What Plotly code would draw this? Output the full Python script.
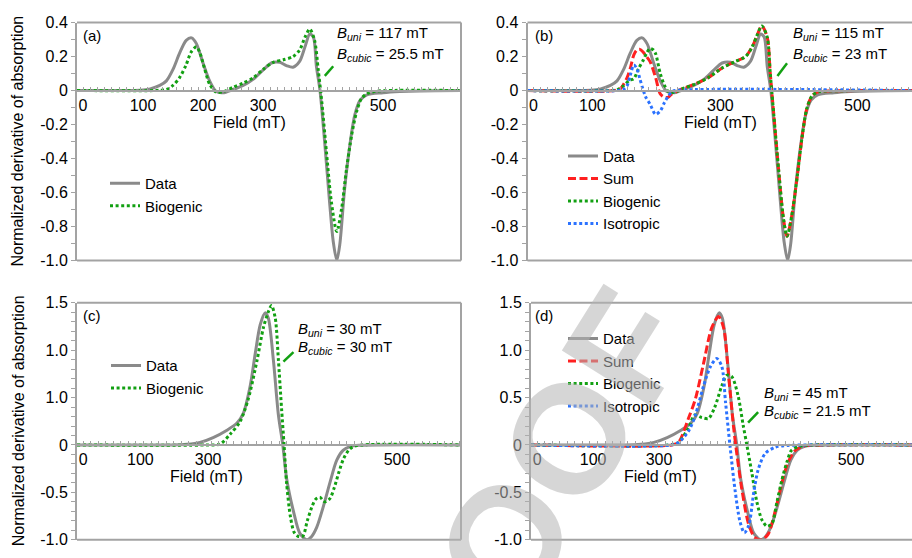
import plotly.graph_objects as go

W, H = 912, 558
FONT = "Liberation Sans, Arial, Helvetica, sans-serif"

# ---------------- sample 1: panels (a) and (b) ----------------
field_ab_data = [-10, 60, 95, 112, 128, 139, 150, 161, 172, 181, 189, 200, 211, 222, 233,
                 250, 267, 284, 300, 314, 328, 339, 350, 361, 370, 378, 384, 389, 395,
                 403, 411, 417, 423, 428, 436, 445, 453, 462, 473, 500, 528, 560, 630]
data_ab = [0, 0, 0.002, 0.01, 0.03, 0.057, 0.124, 0.22, 0.295, 0.31, 0.276, 0.162, 0.057,
           -0.006, -0.013, 0.006, 0.03, 0.067, 0.12, 0.162, 0.166, 0.147, 0.137, 0.171,
           0.257, 0.333, 0.314, 0.143, 0, -0.314, -0.657, -0.886, -1.0, -0.905, -0.58,
           -0.314, -0.143, -0.057, -0.025, -0.013, -0.006, -0.002, 0]

field_a_bio = [-10, 120, 128, 139, 150, 161, 172, 180, 189, 195, 203, 211, 222, 234, 250,
               267, 284, 300, 317, 334, 350, 361, 370, 378, 386, 392, 398, 406, 414, 423,
               431, 439, 448, 456, 464, 473, 489, 630]
bio_a = [0, 0, 0.002, 0.006, 0.03, 0.076, 0.152, 0.225, 0.257, 0.22, 0.124, 0.038, -0.01,
         -0.006, 0.019, 0.044, 0.076, 0.124, 0.166, 0.181, 0.2, 0.238, 0.314, 0.362, 0.295,
         0.124, -0.067, -0.371, -0.657, -0.829, -0.695, -0.467, -0.257, -0.124, -0.048,
         -0.019, -0.004, 0]

field_b_bio = [-10, 130, 140, 150, 160, 167, 175, 183, 189, 194, 199, 203, 211, 218, 224,
               230, 237, 247, 269, 291, 314, 336, 353, 364, 372, 380, 389, 394, 400, 408,
               416, 422, 430, 439, 447, 455, 464, 475, 490, 630]
bio_b = [0, 0, 0.005, 0.029, 0.06, 0.07, 0.13, 0.181, 0.225, 0.248, 0.24, 0.219, 0.1, 0.03,
         -0.005, -0.012, -0.008, 0.01, 0.038, 0.076, 0.133, 0.171, 0.2, 0.257, 0.324, 0.38,
         0.314, 0.105, -0.143, -0.467, -0.752, -0.857, -0.733, -0.505, -0.276, -0.105,
         -0.029, -0.006, -0.002, 0]

field_b_iso = [-10, 140, 150, 156, 161, 167, 172, 177, 182, 187, 194, 203, 211, 218, 224,
               230, 236, 630]
iso_b = [0, 0, 0.008, 0.03, 0.09, 0.15, 0.13, 0.07, 0.01, -0.04, -0.08, -0.14, -0.12,
         -0.07, -0.035, -0.008, 0, 0]

field_b_sum = [-10, 135, 145, 150, 156, 161, 167, 172, 177, 182, 187, 194, 203, 211, 218,
               224, 230, 237, 247, 269, 291, 314, 336, 353, 364, 372, 380, 389, 394, 400,
               408, 416, 422, 430, 439, 447, 455, 464, 475, 490, 630]
sum_b = [0, 0, 0.012, 0.037, 0.078, 0.13, 0.21, 0.238, 0.242, 0.228, 0.205, 0.17, 0.079,
         -0.02, -0.04, -0.04, -0.02, -0.008, 0.01, 0.038, 0.076, 0.133, 0.171, 0.2, 0.257,
         0.324, 0.38, 0.314, 0.105, -0.143, -0.467, -0.752, -0.857, -0.733, -0.505, -0.276,
         -0.105, -0.029, -0.006, -0.002, 0]

# ---------------- sample 2: panels (c) and (d) ----------------
field_cd_data = [-10, 140, 165, 186, 207, 229, 245, 255, 266, 274, 282, 290, 295, 303, 311,
                 318, 324, 335, 345, 356, 364, 372, 383, 393, 404, 414, 425, 440, 602]
data_cd = [0, 0, 0.007, 0.027, 0.078, 0.156, 0.231, 0.333, 0.622, 0.962, 1.268, 1.395,
           1.337, 0.895, 0.316, 0, -0.35, -0.7, -0.93, -1.0, -0.965, -0.87, -0.64, -0.4,
           -0.16, -0.058, -0.017, -0.004, 0]

field_c_bio = [-10, 197, 218, 234, 250, 263, 277, 287, 295, 300, 306, 311, 316, 320, 324,
               330, 336, 343, 350, 357, 364, 370, 377, 385, 393, 400, 407, 415, 425, 436, 602]
bio_c = [0, 0, 0.01, 0.112, 0.248, 0.486, 0.895, 1.235, 1.405, 1.47, 1.337, 0.895, 0.385,
         0, -0.4, -0.75, -0.92, -0.965, -0.96, -0.8, -0.66, -0.575, -0.551, -0.6, -0.566,
         -0.45, -0.296, -0.143, -0.041, -0.007, 0]

field_d_bio = [-10, 209, 225, 241, 251, 262, 273, 283, 294, 302, 310, 320, 328, 334, 342,
               350, 358, 366, 374, 382, 390, 398, 405, 416, 430, 597]
bio_d = [0, 0, 0.027, 0.18, 0.316, 0.289, 0.28, 0.401, 0.622, 0.735, 0.72, 0.52, 0.214, 0,
         -0.296, -0.602, -0.79, -0.857, -0.83, -0.602, -0.364, -0.177, -0.058, -0.017,
         -0.003, 0]

field_d_iso = [-10, 214, 225, 241, 252, 265, 276, 286, 294, 300, 307, 315, 323, 330, 337,
               345, 352, 363, 379, 400, 597]
iso_d = [0, 0, 0.027, 0.146, 0.316, 0.622, 0.827, 0.912, 0.83, 0.452, 0, -0.466, -0.806,
         -0.925, -0.85, -0.5, -0.262, -0.092, -0.024, -0.005, 0]

field_d_sum = [-10, 214, 225, 241, 252, 265, 278, 289, 297, 305, 313, 318, 326, 337, 347,
               358, 368, 379, 390, 400, 411, 422, 440, 597]
sum_d = [0, 0, 0.027, 0.282, 0.486, 0.86, 1.235, 1.354, 1.235, 0.724, 0.18, -0.092, -0.466,
         -0.84, -0.976, -1.0, -0.94, -0.704, -0.398, -0.177, -0.058, -0.017, -0.003, 0]

# ---------------- axis labels ----------------
xtick_a_vals, xtick_a_text = [0, 100, 200, 300, 500], ["0", "100", "200", "300", "500"]
xtick_b_vals, xtick_b_text = [0, 98, 311, 539], ["0", "100", "300", "500"]
xtick_c_vals, xtick_c_text = [0, 91, 199, 500], ["0", "100", "300", "500"]
xtick_d_vals, xtick_d_text = [0, 89, 194, 500], ["0", "100", "300", "500"]
ytick_ab_vals = [-1.0, -0.8, -0.6, -0.4, -0.2, 0, 0.2, 0.4]
ytick_ab_text = ["-1.0", "-0.8", "-0.6", "-0.4", "-0.2", "0", "0.2", "0.4"]
ytick_cd_vals = [-1.0, -0.5, 0, 0.5, 1.0, 1.5]
ytick_c_text = ["-1.0", "-0.5", "0", "1.0", "1.0", "1.5"]
ytick_d_text = ["-1.0", "-0.5", "0", "0.5", "1.0", "1.5"]

panel_tags = ["(a)", "(b)", "(c)", "(d)"]
b_uni = ["117", "115", "30", "45"]
b_cubic = ["25.5", "23", "30", "21.5"]

# ---------------- styles ----------------
GRAY = "#8a8a8a"
AXIS = "#a3a3a3"
RED = "#ff2020"
GREEN = "#12a012"
BLUE = "#2b72ff"

# panel frames in pixels: left, right, top, bottom
frames = {
    "a": (77, 461, 15, 260.5),
    "b": (527.5, 912, 15, 260.5),
    "c": (77, 461, 304, 548.5),
    "d": (531, 912, 304, 548.5),
}
xranges = {"a": [-10, 630], "b": [-10, 630], "c": [-10, 602], "d": [-10, 597.2]}
yranges = {"a": [-1.0, 0.4], "b": [-1.0, 0.4], "c": [-1.0, 1.5], "d": [-1.0, 1.5]}
ax_id = {"a": "", "b": "2", "c": "3", "d": "4"}


def px2x(px):
    return px / W


def px2y(py):
    return 1 - py / H


fig = go.Figure()


def add_line(panel, x, y, name, color, dash, legend, width=3):
    k = ax_id[panel]
    fig.add_trace(go.Scatter(
        x=x, y=y, name=name, mode="lines",
        line=dict(color=color, width=width, dash=dash, shape="spline", smoothing=0.8),
        xaxis="x" + k, yaxis="y" + k, legend=legend,
    ))


DOT = "3px,2.6px"
DASH = "8px,3.5px"

add_line("a", field_ab_data, data_ab, "Data", GRAY, "solid", "legend")
add_line("a", field_a_bio, bio_a, "Biogenic", GREEN, DOT, "legend")

add_line("b", field_ab_data, data_ab, "Data", GRAY, "solid", "legend2")
add_line("b", field_b_sum, sum_b, "Sum", RED, DASH, "legend2")
add_line("b", field_b_bio, bio_b, "Biogenic", GREEN, DOT, "legend2")
add_line("b", field_b_iso, iso_b, "Isotropic", BLUE, DOT, "legend2")

add_line("c", field_cd_data, data_cd, "Data", GRAY, "solid", "legend3")
add_line("c", field_c_bio, bio_c, "Biogenic", GREEN, DOT, "legend3")

add_line("d", field_cd_data, data_cd, "Data", GRAY, "solid", "legend4")
add_line("d", field_d_sum, sum_d, "Sum", RED, DASH, "legend4")
add_line("d", field_d_bio, bio_d, "Biogenic", GREEN, DOT, "legend4")
add_line("d", field_d_iso, iso_d, "Isotropic", BLUE, DOT, "legend4")

xticks = {"a": (xtick_a_vals, xtick_a_text), "b": (xtick_b_vals, xtick_b_text),
          "c": (xtick_c_vals, xtick_c_text), "d": (xtick_d_vals, xtick_d_text)}
yticks = {"a": (ytick_ab_vals, ytick_ab_text), "b": (ytick_ab_vals, ytick_ab_text),
          "c": (ytick_cd_vals, ytick_c_text), "d": (ytick_cd_vals, ytick_d_text)}

layout = dict(
    width=W, height=H, margin=dict(l=0, r=0, t=0, b=0),
    paper_bgcolor="white", plot_bgcolor="rgba(0,0,0,0)",
    font=dict(family=FONT, size=15, color="black"),
    showlegend=True,
)
shapes = []
annotations = []

for p in "abcd":
    l, r, t, b = frames[p]
    k = ax_id[p]
    y0, y1 = yranges[p]
    zero_py = b - (0 - y0) / (y1 - y0) * (b - t)
    tv, tt = xticks[p]
    layout["xaxis" + k] = dict(
        domain=[px2x(l), px2x(r)], range=xranges[p], anchor="free", position=px2y(zero_py),
        showline=True, linecolor=AXIS, linewidth=2, zeroline=False, showgrid=False,
        tickvals=tv, ticktext=tt, ticks="", tickfont=dict(size=16),
        minor=dict(ticks="inside", ticklen=3, tickcolor=AXIS, tickwidth=1, dtick=12,
                   tick0=0, showgrid=False),
        fixedrange=True,
    )
    yv, yt = yticks[p]
    layout["yaxis" + k] = dict(
        domain=[px2y(b), px2y(t)], range=yranges[p], anchor="x" + k,
        showline=True, linecolor=AXIS, linewidth=2, zeroline=False, showgrid=False,
        tickvals=yv, ticktext=yt, ticks="outside", ticklen=4, tickcolor=AXIS, tickwidth=1,
        tickfont=dict(size=16),
        minor=dict(ticks="outside", ticklen=4, tickcolor=AXIS, tickwidth=1,
                   dtick=0.1, tick0=0, showgrid=False),
        fixedrange=True,
    )
    # frame: top and bottom edges, right edge where it falls inside the page
    xd, yd = "x" + k + " domain", "y" + k + " domain"
    for yy in (0, 1):
        shapes.append(dict(type="line", xref=xd, yref=yd, x0=0, x1=1, y0=yy, y1=yy,
                           line=dict(color=AXIS, width=2)))
    if r < W - 1:
        shapes.append(dict(type="line", xref=xd, yref=yd, x0=1, x1=1, y0=0, y1=1,
                           line=dict(color=AXIS, width=2)))

# panel tags
tag_pos = {"a": (81, 28), "b": (533, 28), "c": (81, 317), "d": (533, 317)}
for i, p in enumerate("abcd"):
    x, y = tag_pos[p]
    annotations.append(dict(text=panel_tags[i], x=px2x(x), y=px2y(y), xref="paper",
                            yref="paper", xanchor="left", yanchor="middle",
                            showarrow=False, font=dict(size=15)))

# fitted anisotropy fields with leader line to the biogenic curve
fit_pos = {"a": (420, 0.337, 0.211), "b": (428, 0.337, 0.211),
           "c": (339.5, 1.22, 1.03), "d": (358, 0.54, 0.35)}
leader = {"a": (403, 0.086, 417, 0.143), "b": (406, 0.086, 422, 0.16),
          "c": (319, 0.878, 335, 0.98), "d": (336, 0.235, 352, 0.347)}
for i, p in enumerate("abcd"):
    k = ax_id[p]
    x, yl1, yl2 = fit_pos[p]
    annotations.append(dict(text="<i>B</i><sub><i>uni</i></sub> = %s mT" % b_uni[i],
                            x=x, y=yl1, xref="x" + k, yref="y" + k, xanchor="left",
                            yanchor="middle", showarrow=False, font=dict(size=15)))
    annotations.append(dict(text="<i>B</i><sub><i>cubic</i></sub> = %s mT" % b_cubic[i],
                            x=x, y=yl2, xref="x" + k, yref="y" + k, xanchor="left",
                            yanchor="middle", showarrow=False, font=dict(size=15)))
    x0, y0, x1, y1 = leader[p]
    shapes.append(dict(type="line", xref="x" + k, yref="y" + k, x0=x0, y0=y0, x1=x1, y1=y1,
                       line=dict(color=GREEN, width=2.5)))

# x-axis titles
field_title = {"a": (277, -0.19), "b": (312, -0.19), "c": (196, -0.33), "d": (196, -0.33)}
for p in "abcd":
    k = ax_id[p]
    x, y = field_title[p]
    annotations.append(dict(text="Field (mT)", x=x, y=y, xref="x" + k, yref="y" + k,
                            xanchor="center", yanchor="middle", showarrow=False,
                            font=dict(size=16)))

# y-axis titles (left column only)
for (t, b) in ((15, 260.5), (304, 548.5)):
    annotations.append(dict(text="Normalized derivative of absorption", x=px2x(18),
                            y=px2y((t + b) / 2), xref="paper", yref="paper",
                            textangle=-90, xanchor="center", yanchor="middle",
                            showarrow=False, font=dict(size=16)))

# watermark
annotations.append(dict(text="<b>PROOF</b>", x=px2x(505), y=px2y(550), xref="paper",
                        yref="paper", textangle=-58, showarrow=False,
                        xanchor="center", yanchor="middle",
                        font=dict(size=155, color="rgba(180,180,180,0.55)")))

# legends
leg_pos = {"legend": (105, 164), "legend2": (563, 136), "legend3": (106, 352),
           "legend4": (563, 324)}
for name, (x, y) in leg_pos.items():
    layout[name] = dict(x=px2x(x), y=px2y(y), xanchor="left", yanchor="top",
                        bgcolor="rgba(0,0,0,0)", font=dict(size=15), tracegroupgap=0,
                        itemwidth=30, borderwidth=0)

layout["shapes"] = shapes
layout["annotations"] = annotations
fig.update_layout(**layout)
fig.write_html("out.html")
